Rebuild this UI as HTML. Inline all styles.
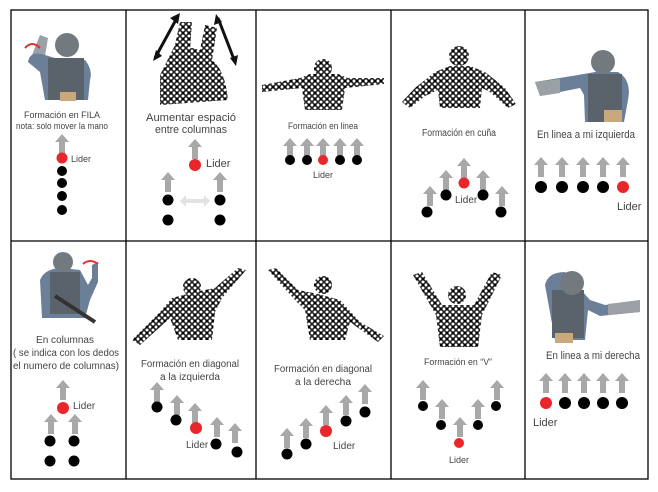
<!DOCTYPE html>
<html><head><meta charset="utf-8"><style>
html,body{margin:0;padding:0;background:#fff;}
svg{display:block;}
text{font-family:"Liberation Sans",sans-serif;fill:#444;}
</style></head><body>
<svg width="658" height="492" viewBox="0 0 658 492" xmlns="http://www.w3.org/2000/svg">
<defs>
<polygon id="a" points="0,0 7,8 3,8 3,20 -3,20 -3,8 -7,8" fill="#a8a8a8"/>
<pattern id="cam" width="6" height="6" patternUnits="userSpaceOnUse">
<rect width="6" height="6" fill="#fff"/><path d="M0 0L6 6M6 0L0 6" stroke="#222" stroke-width="1.6"/><circle cx="3" cy="3" r="1.4" fill="#000"/>
</pattern>
</defs>
<rect width="658" height="492" fill="#fff"/>
<g stroke="#000" stroke-width="1.3" fill="none">
<rect x="11" y="10" width="637" height="469"/>
<line x1="11" y1="241" x2="648" y2="241"/>
<line x1="126" y1="10" x2="126" y2="479"/>
<line x1="256" y1="10" x2="256" y2="479"/>
<line x1="391" y1="10" x2="391" y2="479"/>
<line x1="525" y1="10" x2="525" y2="479"/>
</g>

<g>
<path d="M30 60 L40 35 L48 38 L44 62 Z" fill="#9aa0a6"/>
<path d="M28 62 Q30 50 45 55 L55 58 L85 60 Q93 70 90 80 L88 100 L45 100 L40 72 Z" fill="#6c7f98"/>
<rect x="48" y="58" width="36" height="42" fill="#5a636c"/>
<circle cx="67" cy="45" r="12" fill="#727a80"/>
<rect x="60" y="92" width="16" height="9" fill="#c9a87c"/>
<path d="M25 48 Q32 40 40 48" stroke="#d33" stroke-width="2" fill="none"/>
</g>
<text x="62" y="118" font-size="9" text-anchor="middle" textLength="76" lengthAdjust="spacingAndGlyphs">Formación en  FILA</text>
<text x="62" y="129" font-size="9" text-anchor="middle" textLength="92" lengthAdjust="spacingAndGlyphs">nota: solo mover la mano</text>
<use href="#a" x="62" y="134"/>
<circle cx="62" cy="158" r="5.5" fill="#e8262c"/>
<text x="71" y="162" font-size="9">Lider</text>
<circle cx="62" cy="171" r="5" fill="#000"/><circle cx="62" cy="183" r="5" fill="#000"/>
<circle cx="62" cy="196" r="5" fill="#000"/><circle cx="62" cy="210" r="5" fill="#000"/>

<g>
<path d="M160 75 Q170 55 175 45 L180 22 L192 22 L190 50 L200 50 L205 25 L217 28 L212 60 Q225 70 228 100 L160 105 Z" fill="url(#cam)"/>
<circle cx="192" cy="58" r="10" fill="url(#cam)"/>
<line x1="155" y1="58" x2="178" y2="16" stroke="#111" stroke-width="3"/>
<polygon points="180,13 170,18 178,24" fill="#111"/><polygon points="153,61 156,50 162,56" fill="#111"/>
<line x1="218" y1="18" x2="235" y2="62" stroke="#111" stroke-width="3"/>
<polygon points="216,14 214,25 222,22" fill="#111"/><polygon points="236,66 238,55 230,58" fill="#111"/>
</g>
<text x="191" y="121" font-size="11" text-anchor="middle" textLength="90" lengthAdjust="spacingAndGlyphs">Aumentar espació</text>
<text x="191" y="133" font-size="11" text-anchor="middle" textLength="72" lengthAdjust="spacingAndGlyphs">entre columnas</text>
<use href="#a" x="195" y="139"/>
<circle cx="195" cy="165" r="6" fill="#e8262c"/>
<text x="206" y="167" font-size="11">Lider</text>
<use href="#a" x="168" y="172"/><use href="#a" x="220" y="172"/>
<circle cx="168" cy="200" r="5.5" fill="#000"/><circle cx="220" cy="200" r="5.5" fill="#000"/>
<circle cx="168" cy="220" r="5.5" fill="#000"/><circle cx="220" cy="220" r="5.5" fill="#000"/>
<polygon points="180,201 186,195 186,199 204,199 204,195 210,201 204,207 204,203 186,203 186,207" fill="#e2e2e2"/>

<g>
<path d="M262 85 L300 78 L310 74 L338 74 L348 78 L384 78 L384 84 L345 88 L342 110 L305 110 L302 88 L262 92 Z" fill="url(#cam)"/>
<circle cx="323" cy="68" r="9" fill="url(#cam)"/>
</g>
<text x="323" y="129" font-size="9" text-anchor="middle" textLength="70" lengthAdjust="spacingAndGlyphs">Formación en linea</text>
<use href="#a" x="290" y="138"/><use href="#a" x="307" y="138"/><use href="#a" x="323" y="138"/><use href="#a" x="340" y="138"/><use href="#a" x="357" y="138"/>
<circle cx="290" cy="160" r="5" fill="#000"/><circle cx="307" cy="160" r="5" fill="#000"/><circle cx="323" cy="160" r="5" fill="#e8262c"/><circle cx="340" cy="160" r="5" fill="#000"/><circle cx="357" cy="160" r="5" fill="#000"/>
<text x="323" y="178" font-size="9" text-anchor="middle">Lider</text>

<g>
<path d="M402 102 L415 88 L435 72 L450 66 L470 66 L485 72 L505 88 L516 104 L508 108 L490 92 L482 88 L480 108 L440 108 L438 90 L425 96 L410 108 Z" fill="url(#cam)"/>
<circle cx="459" cy="56" r="10" fill="url(#cam)"/>
</g>
<text x="459" y="136" font-size="10" text-anchor="middle" textLength="74" lengthAdjust="spacingAndGlyphs">Formación en cuña</text>
<use href="#a" x="464" y="158"/><circle cx="464" cy="183" r="5.5" fill="#e8262c"/>
<use href="#a" x="446" y="170"/><circle cx="446" cy="195" r="5.5" fill="#000"/>
<use href="#a" x="483" y="170"/><circle cx="483" cy="195" r="5.5" fill="#000"/>
<use href="#a" x="430" y="186"/><circle cx="427" cy="212" r="5.5" fill="#000"/>
<use href="#a" x="502" y="186"/><circle cx="501" cy="212" r="5.5" fill="#000"/>
<text x="455" y="203" font-size="10">Lider</text>

<g>
<path d="M535 82 L578 75 L595 72 L618 72 Q632 80 628 100 L624 122 L585 122 L584 95 L580 88 L540 96 Z" fill="#6c7f98"/>
<path d="M535 82 L560 79 L560 93 L540 96 Z" fill="#9aa0a6"/>
<rect x="588" y="74" width="34" height="48" fill="#5a636c"/>
<circle cx="603" cy="62" r="12" fill="#727a80"/>
<rect x="604" y="110" width="18" height="12" fill="#c9a87c"/>
</g>
<text x="586" y="138" font-size="11" text-anchor="middle" textLength="98" lengthAdjust="spacingAndGlyphs">En linea a mi izquierda</text>
<use href="#a" x="541" y="157"/><use href="#a" x="562" y="157"/><use href="#a" x="583" y="157"/><use href="#a" x="603" y="157"/><use href="#a" x="623" y="157"/>
<circle cx="541" cy="187" r="6" fill="#000"/><circle cx="562" cy="187" r="6" fill="#000"/><circle cx="583" cy="187" r="6" fill="#000"/><circle cx="603" cy="187" r="6" fill="#000"/><circle cx="623" cy="187" r="6" fill="#e8262c"/>
<text x="617" y="210" font-size="11">Lider</text>

<g>
<path d="M40 280 Q45 268 62 268 L80 270 L88 285 L92 278 L92 265 L98 262 L98 282 L90 300 L85 318 L42 318 Z" fill="#6c7f98"/>
<rect x="50" y="272" width="30" height="42" fill="#5a636c"/>
<circle cx="63" cy="262" r="10" fill="#727a80"/>
<line x1="55" y1="296" x2="95" y2="322" stroke="#333" stroke-width="4"/>
<path d="M83 264 Q90 258 98 264" stroke="#d33" stroke-width="2" fill="none"/>
</g>
<text x="65" y="343" font-size="10" text-anchor="middle" textLength="58" lengthAdjust="spacingAndGlyphs">En columnas</text>
<text x="66" y="356" font-size="10" text-anchor="middle" textLength="106" lengthAdjust="spacingAndGlyphs">( se indica con los  dedos</text>
<text x="66" y="369" font-size="10" text-anchor="middle" textLength="106" lengthAdjust="spacingAndGlyphs">el numero de columnas)</text>
<use href="#a" x="63" y="380"/><circle cx="63" cy="408" r="6" fill="#e8262c"/>
<text x="73" y="409" font-size="10">Lider</text>
<use href="#a" x="51" y="414"/><use href="#a" x="75" y="414"/>
<circle cx="50" cy="441" r="5.5" fill="#000"/><circle cx="74" cy="441" r="5.5" fill="#000"/>
<circle cx="50" cy="461" r="5.5" fill="#000"/><circle cx="74" cy="461" r="5.5" fill="#000"/>

<g>
<path d="M132 340 L160 312 L172 298 L195 292 L215 288 L238 268 L246 270 L222 298 L215 312 L212 340 L178 340 L170 318 L140 345 Z" fill="url(#cam)"/>
<circle cx="192" cy="287" r="9" fill="url(#cam)"/>
</g>
<text x="190" y="367" font-size="10" text-anchor="middle" textLength="98" lengthAdjust="spacingAndGlyphs">Formación en diagonal</text>
<text x="190" y="380" font-size="10" text-anchor="middle" textLength="60" lengthAdjust="spacingAndGlyphs">a la izquierda</text>
<use href="#a" x="157" y="382"/><circle cx="157" cy="407" r="5.5" fill="#000"/>
<use href="#a" x="177" y="395"/><circle cx="176" cy="420" r="5.5" fill="#000"/>
<use href="#a" x="195" y="403"/><circle cx="196" cy="428" r="6" fill="#e8262c"/>
<use href="#a" x="217" y="417"/><circle cx="216" cy="444" r="5.5" fill="#000"/>
<use href="#a" x="235" y="423"/><circle cx="237" cy="452" r="5.5" fill="#000"/>
<text x="186" y="448" font-size="10">Lider</text>

<g>
<path d="M268 270 L276 268 L298 290 L318 294 L340 300 L360 322 L384 336 L378 342 L350 322 L345 340 L310 340 L305 310 L295 300 Z" fill="url(#cam)"/>
<circle cx="323" cy="285" r="9" fill="url(#cam)"/>
</g>
<text x="323" y="372" font-size="10" text-anchor="middle" textLength="98" lengthAdjust="spacingAndGlyphs">Formación en diagonal</text>
<text x="323" y="385" font-size="10" text-anchor="middle" textLength="56" lengthAdjust="spacingAndGlyphs">a la derecha</text>
<use href="#a" x="287" y="428"/><circle cx="287" cy="454" r="5.5" fill="#000"/>
<use href="#a" x="306" y="418"/><circle cx="306" cy="444" r="5.5" fill="#000"/>
<use href="#a" x="326" y="405"/><circle cx="326" cy="431" r="6" fill="#e8262c"/>
<use href="#a" x="346" y="395"/><circle cx="346" cy="421" r="5.5" fill="#000"/>
<use href="#a" x="365" y="384"/><circle cx="365" cy="412" r="5.5" fill="#000"/>
<text x="333" y="449" font-size="10">Lider</text>

<g>
<path d="M413 275 L422 272 L442 305 L474 305 L492 272 L502 275 L482 315 L478 347 L440 347 L436 315 Z" fill="url(#cam)"/>
<circle cx="457" cy="295" r="9" fill="url(#cam)"/>
</g>
<text x="458" y="365" font-size="9" text-anchor="middle" textLength="68" lengthAdjust="spacingAndGlyphs">Formación en “V”</text>
<use href="#a" x="423" y="380"/><circle cx="423" cy="406" r="5" fill="#000"/>
<use href="#a" x="442" y="399"/><circle cx="441" cy="425" r="5" fill="#000"/>
<use href="#a" x="460" y="417"/><circle cx="459" cy="443" r="5" fill="#e8262c"/>
<use href="#a" x="478" y="399"/><circle cx="478" cy="425" r="5" fill="#000"/>
<use href="#a" x="497" y="380"/><circle cx="496" cy="406" r="5" fill="#000"/>
<text x="459" y="463" font-size="9" text-anchor="middle">Lider</text>

<g>
<path d="M545 285 Q548 272 565 272 L590 300 L605 305 L640 300 L640 312 L600 316 L588 310 L585 340 L555 340 Z" fill="#6c7f98"/>
<path d="M608 304 L640 300 L640 312 L608 315 Z" fill="#9aa0a6"/>
<rect x="552" y="290" width="32" height="48" fill="#5a636c"/>
<circle cx="572" cy="283" r="12" fill="#727a80"/>
<rect x="555" y="333" width="18" height="10" fill="#c9a87c"/>
</g>
<text x="593" y="359" font-size="11" text-anchor="middle" textLength="94" lengthAdjust="spacingAndGlyphs">En linea a mi derecha</text>
<use href="#a" x="546" y="373"/><use href="#a" x="565" y="373"/><use href="#a" x="584" y="373"/><use href="#a" x="603" y="373"/><use href="#a" x="622" y="373"/>
<circle cx="546" cy="403" r="6" fill="#e8262c"/><circle cx="565" cy="403" r="6" fill="#000"/><circle cx="584" cy="403" r="6" fill="#000"/><circle cx="603" cy="403" r="6" fill="#000"/><circle cx="622" cy="403" r="6" fill="#000"/>
<text x="533" y="426" font-size="11">Lider</text>
</svg>
</body></html>
